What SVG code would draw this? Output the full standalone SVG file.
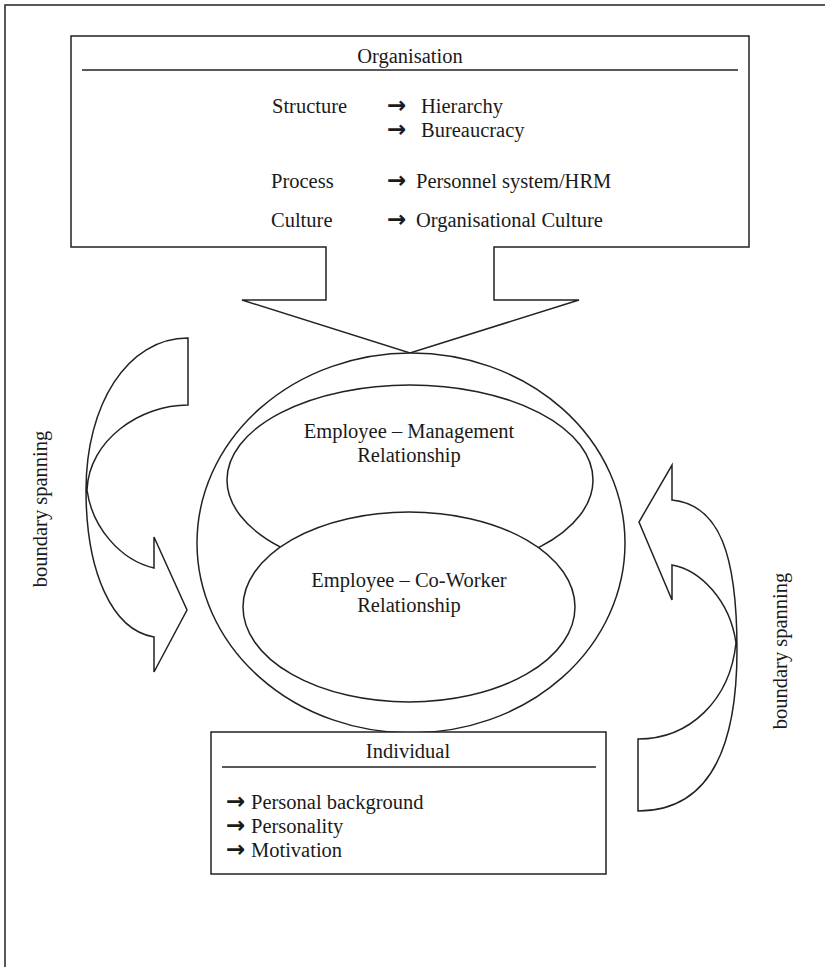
<svg xmlns="http://www.w3.org/2000/svg" width="825" height="967" viewBox="0 0 825 967">
<style>
.ln{fill:none;stroke:#222;stroke-width:1.5}
.wf{fill:#fff;stroke:#222;stroke-width:1.5}
text{font-family:"Liberation Serif","Times New Roman",serif;font-size:20.5px;fill:#1a1a1a}
.c{text-anchor:middle}
.ar{font-family:"DejaVu Sans","Liberation Sans",sans-serif;font-weight:bold;font-size:23px}
</style>
<g id="frame">
<path class="ln" d="M5,967 V5 H825"/>
</g>
<g id="organisation">
<path class="wf" d="M71,36 H749 V247 H494 V300 H579 L410,353 L242,300 H326 V247 H71 Z"/>
<line class="ln" x1="82" y1="70" x2="738" y2="70"/>
<text class="c" x="410" y="63">Organisation</text>
<text x="272" y="113">Structure</text>
<text y="113"><tspan class="ar" x="387">→</tspan><tspan x="421">Hierarchy</tspan></text>
<text y="137"><tspan class="ar" x="387">→</tspan><tspan x="421">Bureaucracy</tspan></text>
<text x="271" y="188">Process</text>
<text y="188"><tspan class="ar" x="387">→</tspan><tspan x="416">Personnel system/HRM</tspan></text>
<text x="271" y="227">Culture</text>
<text y="227"><tspan class="ar" x="387">→</tspan><tspan x="416">Organisational Culture</tspan></text>
</g>
<g id="relationships">
<ellipse class="wf" cx="411" cy="543" rx="214" ry="190"/>
<g id="management">
<ellipse class="wf" cx="410" cy="480" rx="183" ry="95"/>
</g>
<g id="coworker">
<ellipse class="wf" cx="409" cy="607" rx="166" ry="95"/>
<text class="c" x="409" y="587">Employee – Co-Worker</text>
<text class="c" x="409" y="612">Relationship</text>
</g>
<text class="c" x="409" y="438">Employee – Management</text>
<text class="c" x="409" y="462">Relationship</text>
</g>
<g id="individual">
<rect class="wf" x="211" y="732" width="395" height="142"/>
<line class="ln" x1="222" y1="767" x2="596" y2="767"/>
<text class="c" x="408" y="758">Individual</text>
<text y="809"><tspan class="ar" x="226">→</tspan><tspan x="251">Personal background</tspan></text>
<text y="833"><tspan class="ar" x="226">→</tspan><tspan x="251">Personality</tspan></text>
<text y="857"><tspan class="ar" x="226">→</tspan><tspan x="251">Motivation</tspan></text>
</g>
<g id="connectors">
<g id="boundary-left">
<path class="ln" d="M188,405 L188,338 C127,338 86,405 86,490 C86,572 112,630 154,637 L154,672 L187,610 L154,537 L154,568 C120,560 92,527 87,490 C89,440 140,405 188,405 Z"/>
<text class="c" transform="translate(47,509) rotate(-90)">boundary spanning</text>
</g>
<g id="boundary-right">
<path class="ln" d="M638,739 L638,811 C705,811 737,755 737,650 C737,555 720,505 672,500 L672,465 L639,522 L672,600 L672,565 C700,570 730,600 736,643 C730,700 690,739 638,739 Z"/>
<text class="c" transform="translate(787,651) rotate(-90)">boundary spanning</text>
</g>
</g>
</svg>
